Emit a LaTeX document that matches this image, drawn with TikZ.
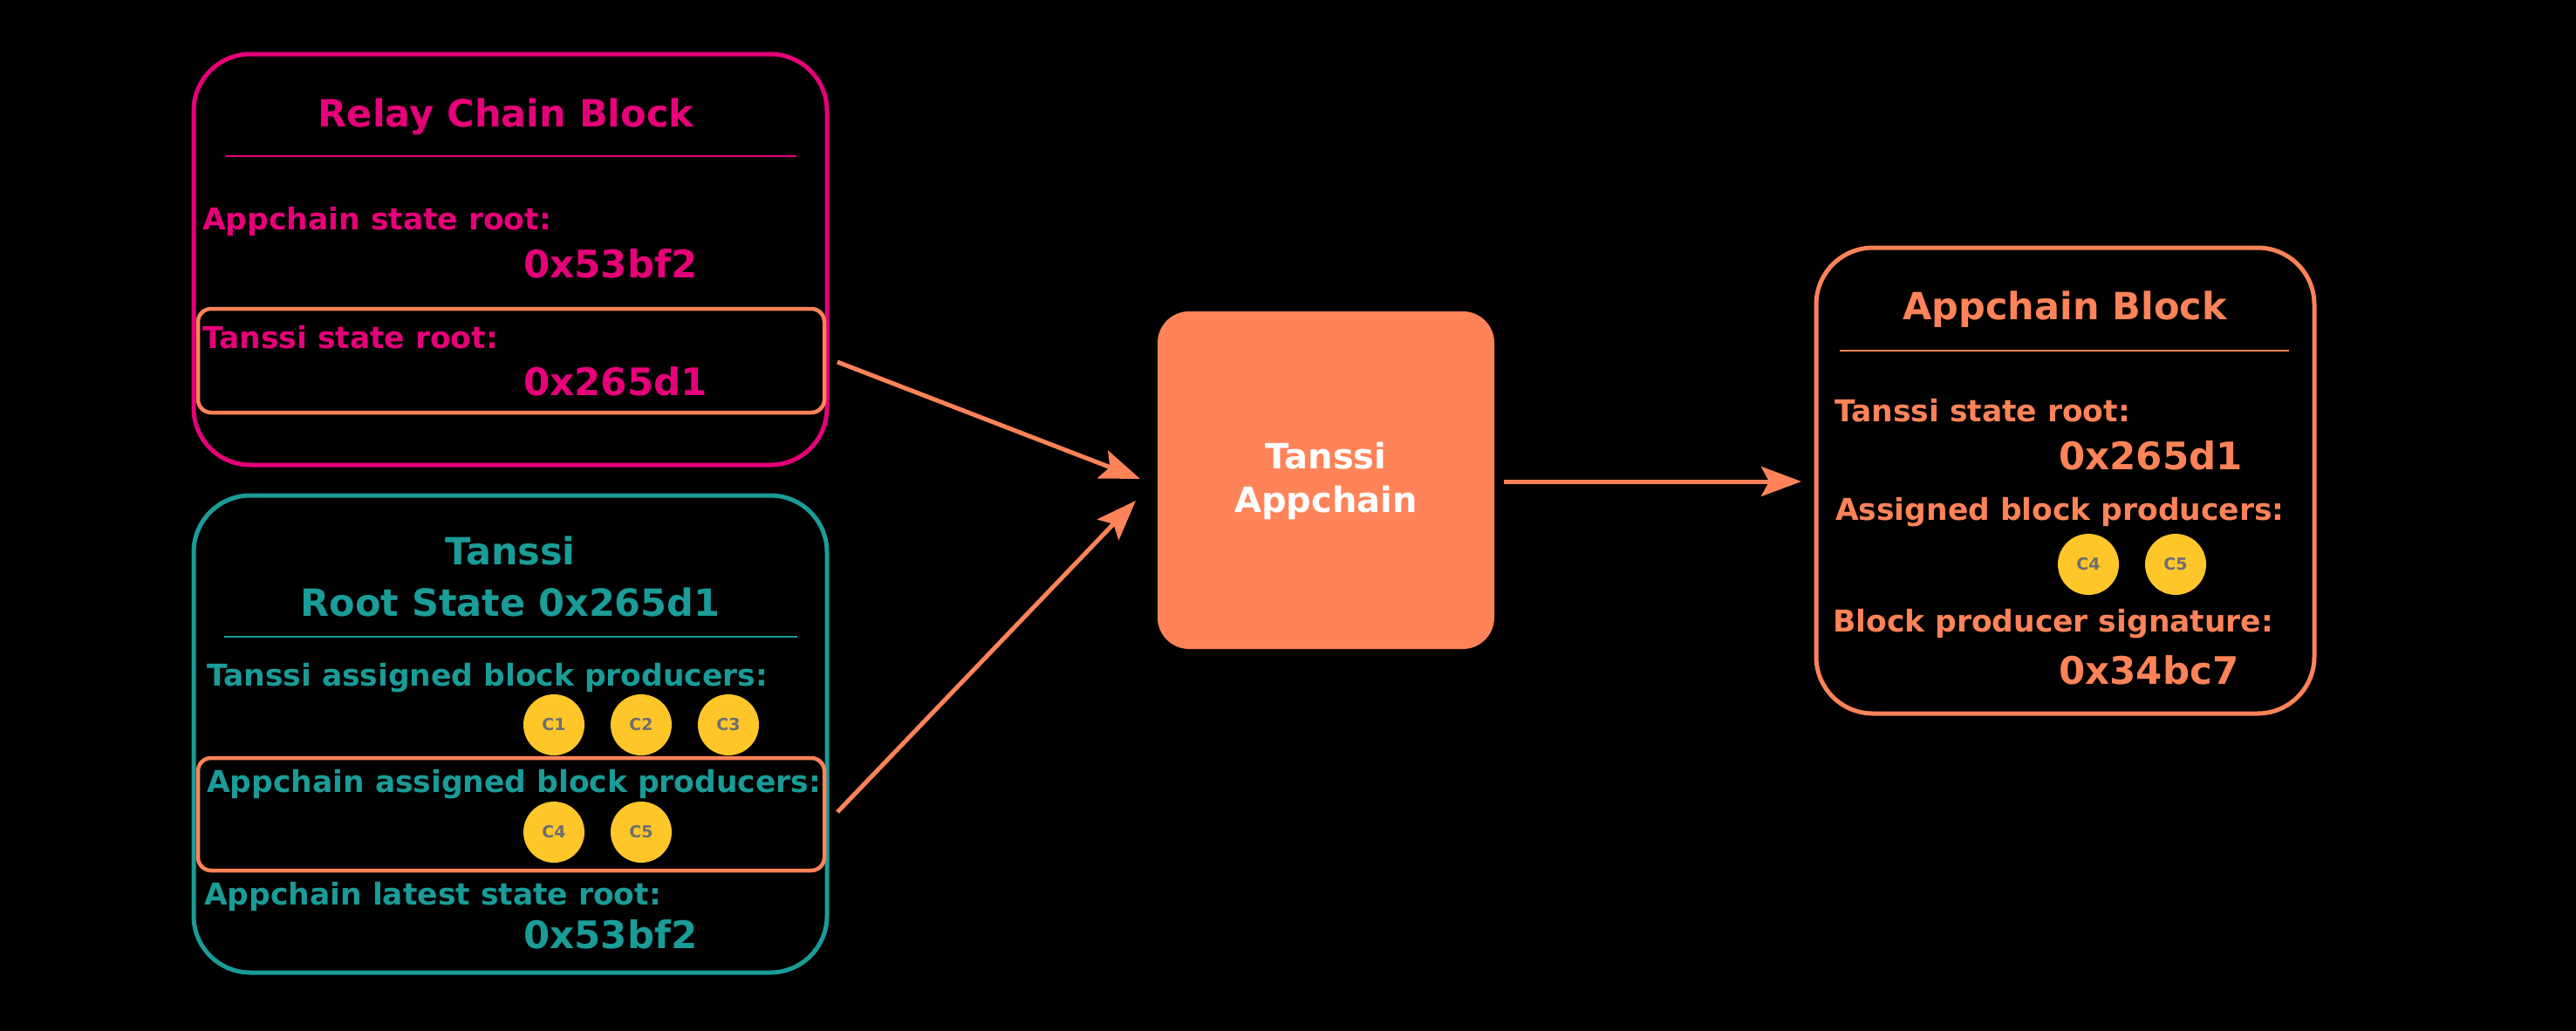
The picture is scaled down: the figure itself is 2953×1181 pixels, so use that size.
\documentclass[tikz,border=0pt]{standalone}
\usepackage{fontspec}
\setmainfont{DejaVu Sans}
\usetikzlibrary{arrows.meta}
\definecolor{mag}{HTML}{E6007A}
\definecolor{tealc}{HTML}{1A9C98}
\definecolor{orng}{HTML}{FF8358}
\definecolor{coin}{HTML}{FFC629}
\definecolor{coingray}{HTML}{6D6E71}
\tikzset{
  txt/.style={anchor=base west, inner sep=0pt, font=\bfseries\fontsize{34.5}{40}\selectfont},
  val/.style={anchor=base west, inner sep=0pt, font=\bfseries\fontsize{43.5}{50}\selectfont},
  ttl/.style={anchor=base, inner sep=0pt, font=\bfseries\fontsize{43}{50}\selectfont},
  blockbox/.style={draw, line width=5pt, rounded corners=65pt, inner sep=0pt},
  hlbox/.style={draw=orng, line width=4.5pt, rounded corners=15pt, inner sep=0pt},
  coinnode/.style={circle, fill=coin, minimum size=70pt, inner sep=0pt, text=coingray, font=\bfseries\fontsize{19}{21}\selectfont},
  sepline/.style={line width=2.5pt},
  flow/.style={draw=orng, line width=5pt, -{Stealth[length=46pt,width=34pt,inset=9pt]}},
}
\begin{document}
\begin{tikzpicture}[x=1pt,y=-1pt]
\useasboundingbox (0,0) rectangle (2953,1181);
\fill[black] (-20,-20) rectangle (2973,1201);

% Relay Chain Block
\node[blockbox, draw=mag, minimum width=726pt, minimum height=471pt] (relay) at (585,297.5) {};
\node[hlbox, minimum width=718pt, minimum height=119pt] (relayhl) at (586,413.5) {};
\node[ttl, text=mag] (relaytitle) at (580,145) {Relay Chain Block};
\coordinate (rl1) at (259,179); \coordinate (rl2) at (913,179);
\draw[sepline, mag] (rl1) -- (rl2);
\node[txt, text=mag] (rapp) at (232,263) {Appchain state root:};
\node[val, text=mag] (rappv) at (600,318) {0x53bf2};
\node[txt, text=mag] (rtan) at (232,399) {Tanssi state root:};
\node[val, text=mag] (rtanv) at (600,453) {0x265d1};

% Tanssi root state
\node[blockbox, draw=tealc, minimum width=726pt, minimum height=547pt] (tanssi) at (585,841.5) {};
\node[hlbox, minimum width=718pt, minimum height=129pt] (tanssihl) at (586,933.5) {};
\node[ttl, text=tealc] (tt1) at (585,647) {Tanssi};
\node[ttl, text=tealc] (tt2) at (585,706) {Root State 0x265d1};
\coordinate (tl1) at (257,730); \coordinate (tl2) at (914,730);
\draw[sepline, tealc] (tl1) -- (tl2);
\node[txt, text=tealc] (tabp) at (237,786) {Tanssi assigned block producers:};
\node[coinnode] (c1) at (635,831) {C1};
\node[coinnode] (c2) at (735,831) {C2};
\node[coinnode] (c3) at (835,831) {C3};
\node[txt, text=tealc] (aabp) at (237,908) {Appchain assigned block producers:};
\node[coinnode] (c4) at (635,954) {C4};
\node[coinnode] (c5) at (735,954) {C5};
\node[txt, text=tealc] (alsr) at (234,1037) {Appchain latest state root:};
\node[val, text=tealc] (alsrv) at (600,1087) {0x53bf2};

% Tanssi Appchain
\node[fill=orng, rounded corners=36pt, minimum width=386pt, minimum height=387pt, inner sep=0pt] (center) at (1520,550.5) {};
\node[ttl, text=white, font=\bfseries\fontsize{40}{48}\selectfont] (ct1) at (1520,537) {Tanssi};
\node[ttl, text=white, font=\bfseries\fontsize{40}{48}\selectfont] (ct2) at (1520,587) {Appchain};

% Appchain Block
\node[blockbox, draw=orng, minimum width=571pt, minimum height=534pt] (appblock) at (2367.5,551) {};
\node[ttl, text=orng] (abt) at (2367,366) {Appchain Block};
\coordinate (al1) at (2109,402); \coordinate (al2) at (2624,402);
\draw[sepline, orng] (al1) -- (al2);
\node[txt, text=orng] (abtan) at (2103,483) {Tanssi state root:};
\node[val, text=orng] (abtanv) at (2360,538) {0x265d1};
\node[txt, text=orng] (abasg) at (2104,596) {Assigned block producers:};
\node[coinnode] (d4) at (2394,647) {C4};
\node[coinnode] (d5) at (2494,647) {C5};
\node[txt, text=orng] (absig) at (2101,724) {Block producer signature:};
\node[val, text=orng] (absigv) at (2360,784) {0x34bc7};

% Arrows
\coordinate (a1s) at (960,415); \coordinate (a1e) at (1307,549);
\coordinate (a2s) at (960,931); \coordinate (a2e) at (1302,574);
\coordinate (a3s) at (1724,552); \coordinate (a3e) at (2065,552);
\draw[flow] (a1s) -- (a1e);
\draw[flow] (a2s) -- (a2e);
\draw[flow] (a3s) -- (a3e);
\end{tikzpicture}
\end{document}
